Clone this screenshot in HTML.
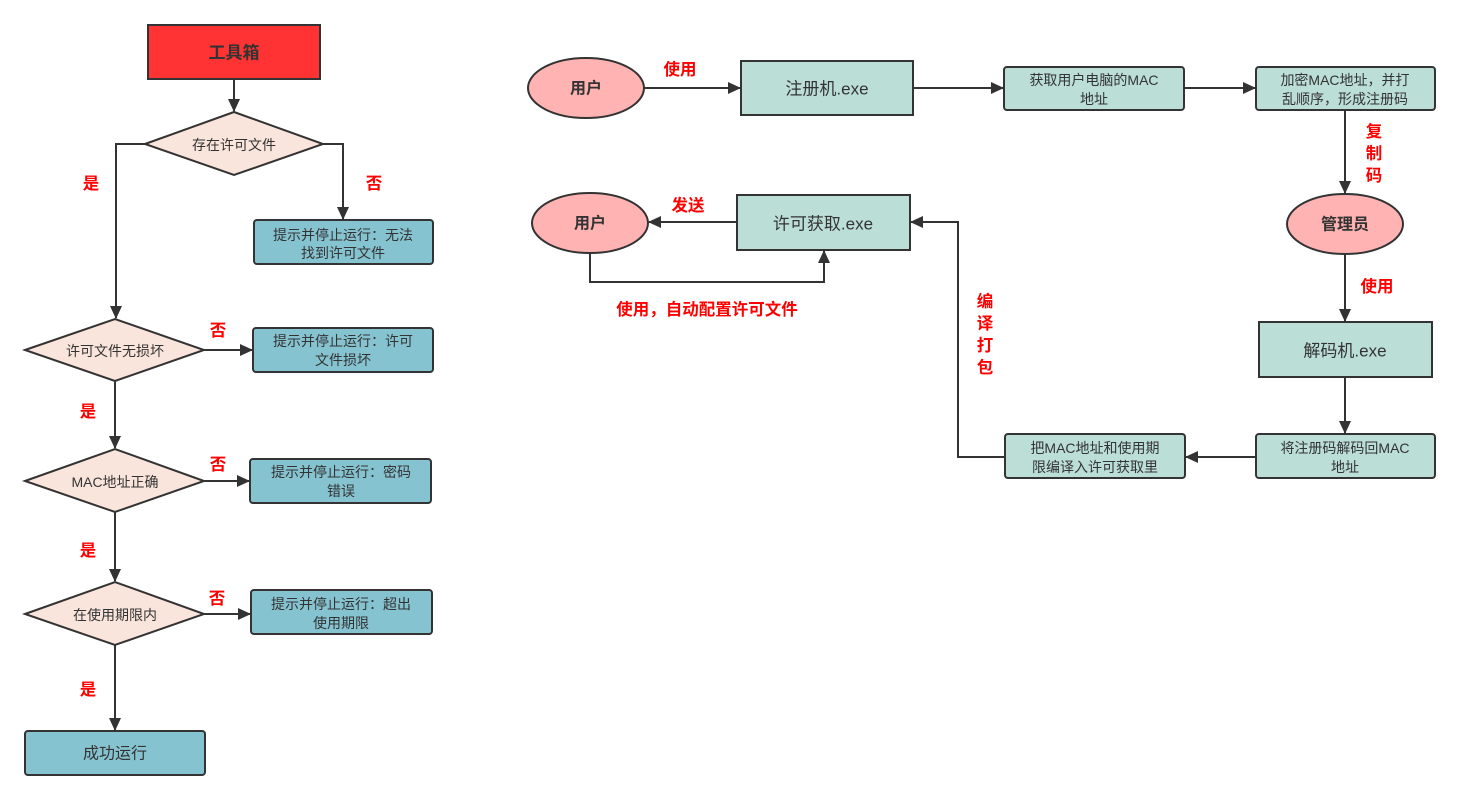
<!DOCTYPE html>
<html><head><meta charset="utf-8"><style>
html,body{margin:0;padding:0;background:#fff;}
svg text{font-family:"Liberation Sans","Noto Sans CJK SC",sans-serif;}
.t{fill:#333;font-size:14px;text-anchor:middle;dominant-baseline:central;}
.b{font-weight:bold;}
.r{fill:#f00;font-size:16.5px;font-weight:bold;text-anchor:middle;dominant-baseline:central;}
.ln{stroke:#333;stroke-width:2;fill:none;}
</style></head><body>
<svg width="1462" height="800" viewBox="0 0 1462 800" xmlns="http://www.w3.org/2000/svg">
<defs><marker id="a" markerWidth="13" markerHeight="12" refX="12" refY="6" orient="auto" markerUnits="userSpaceOnUse"><path d="M0,0 L13,6 L0,12 z" fill="#333"/></marker></defs>
<g stroke="#333" stroke-width="2">
<rect x="148" y="25" width="172" height="54" fill="#ff3333"/>
<polygon points="145,144 234,112 323,144 234,175" fill="#fae5dc"/>
<rect x="254" y="220" width="179" height="44" rx="3" fill="#86c3d0"/>
<polygon points="25,350 115,319 204,350 115,381" fill="#fae5dc"/>
<rect x="253" y="328" width="180" height="44" rx="3" fill="#86c3d0"/>
<polygon points="25,481 115,449 204,481 115,512" fill="#fae5dc"/>
<rect x="250" y="459" width="181" height="44" rx="3" fill="#86c3d0"/>
<polygon points="25,614 115,582 204,614 115,645" fill="#fae5dc"/>
<rect x="251" y="590" width="181" height="44" rx="3" fill="#86c3d0"/>
<rect x="25" y="731" width="180" height="44" rx="3" fill="#86c3d0"/>
<ellipse cx="586" cy="88" rx="58" ry="30" fill="#ffb3b3"/>
<rect x="741" y="61" width="172" height="54" fill="#bbded6"/>
<rect x="1004" y="67" width="180" height="43" rx="3" fill="#bbded6"/>
<rect x="1256" y="67" width="179" height="43" rx="3" fill="#bbded6"/>
<ellipse cx="1345" cy="224" rx="58" ry="30" fill="#ffb3b3"/>
<rect x="1259" y="322" width="173" height="55" fill="#bbded6"/>
<rect x="1256" y="434" width="179" height="44" rx="3" fill="#bbded6"/>
<rect x="1005" y="434" width="180" height="44" rx="3" fill="#bbded6"/>
<rect x="737" y="195" width="173" height="55" fill="#bbded6"/>
<ellipse cx="590" cy="223" rx="58" ry="30" fill="#ffb3b3"/>
</g>
<g class="ln">
<path d="M234,79 V111" marker-end="url(#a)"/>
<path d="M145,144 H116 V318" marker-end="url(#a)"/>
<path d="M323,144 H343 V219" marker-end="url(#a)"/>
<path d="M204,350 H252" marker-end="url(#a)"/>
<path d="M115,381 V448" marker-end="url(#a)"/>
<path d="M204,481 H249" marker-end="url(#a)"/>
<path d="M115,512 V581" marker-end="url(#a)"/>
<path d="M204,614 H250" marker-end="url(#a)"/>
<path d="M115,645 V730" marker-end="url(#a)"/>
<path d="M644,88 H740" marker-end="url(#a)"/>
<path d="M913,88 H1003" marker-end="url(#a)"/>
<path d="M1184,88 H1255" marker-end="url(#a)"/>
<path d="M1345,110 V193" marker-end="url(#a)"/>
<path d="M1345,254 V321" marker-end="url(#a)"/>
<path d="M1345,377 V433" marker-end="url(#a)"/>
<path d="M1256,457 H1186" marker-end="url(#a)"/>
<path d="M1005,457 H958 V222 H911" marker-end="url(#a)"/>
<path d="M737,222 H649" marker-end="url(#a)"/>
<path d="M590,253 V282 H824 V251" marker-end="url(#a)"/>
</g>
<text class="t b" x="234" y="53" style="font-size:17px">工具箱</text>
<text class="t" x="234" y="145">存在许可文件</text>
<text class="t" x="343" y="235">提示并停止运行：无法</text>
<text class="t" x="343" y="253">找到许可文件</text>
<text class="t" x="115" y="351">许可文件无损坏</text>
<text class="t" x="343" y="341">提示并停止运行：许可</text>
<text class="t" x="343" y="360">文件损坏</text>
<text class="t" x="115" y="482">MAC地址正确</text>
<text class="t" x="341" y="472">提示并停止运行：密码</text>
<text class="t" x="341" y="491">错误</text>
<text class="t" x="115" y="615">在使用期限内</text>
<text class="t" x="341" y="604">提示并停止运行：超出</text>
<text class="t" x="341" y="623">使用期限</text>
<text class="t" x="115" y="754" style="font-size:16px">成功运行</text>
<text class="r" x="91" y="184">是</text>
<text class="r" x="374" y="184">否</text>
<text class="r" x="218" y="331">否</text>
<text class="r" x="88" y="412">是</text>
<text class="r" x="218" y="465">否</text>
<text class="r" x="88" y="551">是</text>
<text class="r" x="217" y="599">否</text>
<text class="r" x="88" y="690">是</text>
<text class="t b" x="586" y="89" style="font-size:16px">用户</text>
<text class="r" x="680" y="70">使用</text>
<text class="t" x="827" y="89" style="font-size:17px">注册机.exe</text>
<text class="t" x="1094" y="80">获取用户电脑的MAC</text>
<text class="t" x="1094" y="99">地址</text>
<text class="t" x="1345" y="80">加密MAC地址，并打</text>
<text class="t" x="1345" y="99">乱顺序，形成注册码</text>
<text class="r" x="1374" y="132">复</text>
<text class="r" x="1374" y="154">制</text>
<text class="r" x="1374" y="176">码</text>
<text class="t b" x="1345" y="225" style="font-size:16px">管理员</text>
<text class="r" x="1377" y="287">使用</text>
<text class="t" x="1345" y="351" style="font-size:17px">解码机.exe</text>
<text class="t" x="1345" y="448">将注册码解码回MAC</text>
<text class="t" x="1345" y="467">地址</text>
<text class="t" x="1095" y="448">把MAC地址和使用期</text>
<text class="t" x="1095" y="467">限编译入许可获取里</text>
<text class="r" x="985" y="302">编</text>
<text class="r" x="985" y="324">译</text>
<text class="r" x="985" y="346">打</text>
<text class="r" x="985" y="368">包</text>
<text class="t" x="823" y="224" style="font-size:17px">许可获取.exe</text>
<text class="r" x="688" y="206">发送</text>
<text class="t b" x="590" y="224" style="font-size:16px">用户</text>
<text class="r" x="707" y="310">使用，自动配置许可文件</text>
</svg>
</body></html>
